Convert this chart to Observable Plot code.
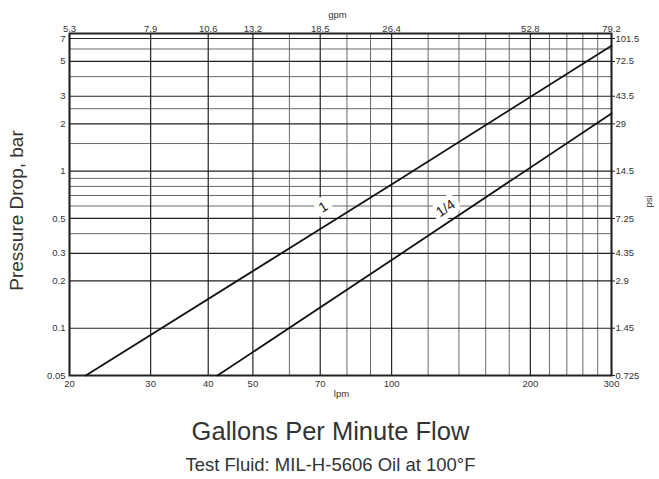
<!DOCTYPE html>
<html><head><meta charset="utf-8">
<script src="https://cdn.jsdelivr.net/npm/d3@7"></script>
<script src="https://cdn.jsdelivr.net/npm/@observablehq/plot@0.6"></script>
<style>body{margin:0;background:#fff;} svg{font-family:"Liberation Sans",Arial,sans-serif;}</style>
</head><body><div id="chart"></div>
<script>
// X: flow in lpm (bottom) and gpm (top)
const flowTicks = [20, 30, 40, 50, 70, 100, 200, 300];
const lpmLabels = ["20", "30", "40", "50", "70", "100", "200", "300"];
const gpmLabels = ["5.3", "7.9", "10.6", "13.2", "18.5", "26.4", "52.8", "79.2"];
const flowMinor = [60, 80, 90, 120, 140, 160, 180, 220, 240, 260, 280];
// Y: pressure drop in bar (left) and psi (right)
const barTicks = [0.05, 0.1, 0.2, 0.3, 0.5, 1, 2, 3, 5, 7];
const barLabels = ["0.05", "0.1", "0.2", "0.3", "0.5", "1", "2", "3", "5", "7"];
const psiLabels = ["0.725", "1.45", "2.9", "4.35", "7.25", "14.5", "29", "43.5", "72.5", "101.5"];
const barMinor = [0.4, 0.6, 0.7, 0.8, 0.9, 1.5, 2.5, 4, 6];
// Series
const flowSeries1 = [21.7, 103, 300];
const dropSeries1 = [0.05, 0.87, 6.3];
const flowSeries4 = [41.9, 107, 300];
const dropSeries4 = [0.05, 0.31, 2.33];
const seriesNames = ["1", "1/4"];
const labelFlow = [71, 131];
const labelDrop = [0.59, 0.58];

const xLab = flowTicks.map((d, i) => ({v: d, lpm: lpmLabels[i], gpm: gpmLabels[i]}));
const yLab = barTicks.map((d, i) => ({v: d, bar: barLabels[i], psi: psiLabels[i]}));
const s1 = flowSeries1.map((f, i) => ({flow: f, drop: dropSeries1[i]}));
const s4 = flowSeries4.map((f, i) => ({flow: f, drop: dropSeries4[i]}));
const lab1 = [{flow: labelFlow[0], drop: labelDrop[0], name: seriesNames[0]}];
const lab4 = [{flow: labelFlow[1], drop: labelDrop[1], name: seriesNames[1]}];

const ink = "#222";
const tf = 9.5;
const tc = "#333";

const chart = Plot.plot({
  width: 659,
  height: 479,
  marginLeft: 69,
  marginRight: 48,
  marginTop: 33,
  marginBottom: 104,
  style: {fontFamily: "Liberation Sans, Arial, sans-serif", color: "#333", background: "#fff"},
  x: {type: "log", domain: [20, 300], axis: null},
  y: {type: "log", domain: [0.05, 7.53]},
  marks: [
    Plot.ruleX(flowMinor, {stroke: "#6a6a6a", strokeWidth: 1}),
    Plot.ruleY(barMinor, {stroke: "#6a6a6a", strokeWidth: 1}),
    Plot.ruleX(flowTicks, {stroke: ink, strokeWidth: 1.2}),
    Plot.ruleY(barTicks.slice(1), {stroke: ink, strokeWidth: 1.2}),
    Plot.frame({stroke: ink, strokeWidth: 2}),
    Plot.axisY(barTicks, {anchor: "right", tickSize: 3, tickFormat: () => "", stroke: ink, label: null}),
    // bottom lpm labels
    Plot.text(xLab, {x: "v", text: "lpm", frameAnchor: "bottom", textAnchor: "middle", lineAnchor: "top", dy: 5, fontSize: tf, fill: tc}),
    // top gpm labels
    Plot.text(xLab, {x: "v", text: "gpm", frameAnchor: "top", textAnchor: "middle", lineAnchor: "bottom", dy: -2, fontSize: tf, fill: tc}),
    // left bar labels
    Plot.text(yLab, {y: "v", text: "bar", frameAnchor: "left", textAnchor: "end", dx: -4, fontSize: tf, fill: tc}),
    // right psi labels
    Plot.text(yLab, {y: "v", text: "psi", frameAnchor: "right", textAnchor: "start", dx: 4, fontSize: tf, fill: tc}),
    Plot.line(s1, {x: "flow", y: "drop", stroke: "#111", strokeWidth: 1.8}),
    Plot.line(s4, {x: "flow", y: "drop", stroke: "#111", strokeWidth: 1.8}),
    Plot.text(lab1, {x: "flow", y: "drop", text: "name", rotate: -32, fontSize: 14, fill: ink, stroke: "white", strokeWidth: 10}),
    Plot.text(lab4, {x: "flow", y: "drop", text: "name", rotate: -34, fontSize: 14, fill: ink, stroke: "white", strokeWidth: 10}),
    Plot.text(["Pressure Drop, bar"], {frameAnchor: "left", textAnchor: "middle", dx: -53, dy: 6, rotate: -90, fontSize: 19, fill: "#333"}),
    Plot.text(["psi"], {frameAnchor: "right", textAnchor: "middle", dx: 37, dy: -3, rotate: -90, fontSize: 9.5, fill: "#333"}),
    Plot.text(["gpm"], {frameAnchor: "top", textAnchor: "middle", dx: -3, dy: -22, fontSize: 9.5, fill: "#333"}),
    Plot.text(["lpm"], {frameAnchor: "bottom", textAnchor: "middle", dx: 1, dy: 21, fontSize: 9.5, fill: "#333"}),
    Plot.text(["Gallons Per Minute Flow"], {frameAnchor: "bottom", textAnchor: "middle", dx: -10, dy: 64, fontSize: 25.5, fill: "#333"}),
    Plot.text(["Test Fluid: MIL-H-5606 Oil at 100°F"], {frameAnchor: "bottom", textAnchor: "middle", dx: -10, dy: 95, fontSize: 18.5, fill: "#333"})
  ]
});
document.getElementById("chart").appendChild(chart);
</script>
</body></html>
